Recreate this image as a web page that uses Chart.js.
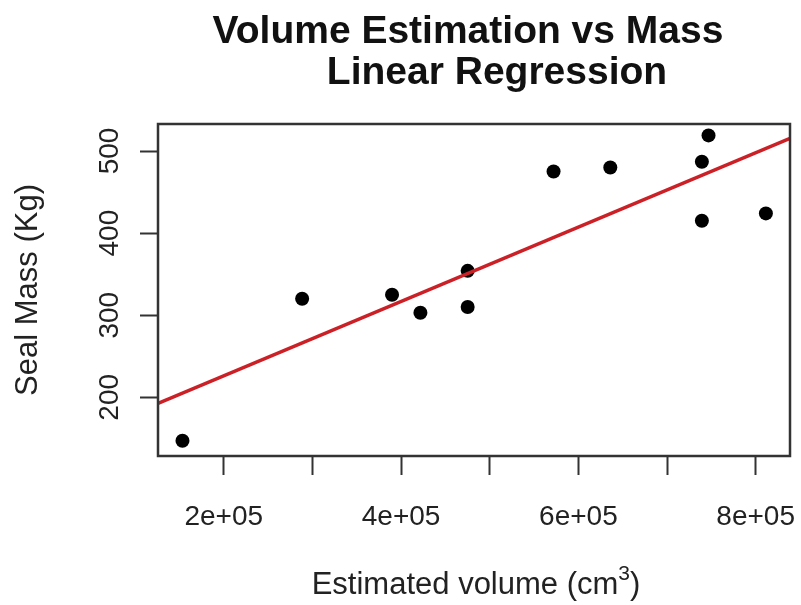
<!DOCTYPE html>
<html>
<head>
<meta charset="utf-8">
<script src="https://cdn.jsdelivr.net/npm/chart.js@4"></script>
<style>
  html, body { margin: 0; padding: 0; background: #fff; }
  #wrap { width: 801px; height: 605px; }
</style>
</head>
<body>
<div id="wrap"><canvas id="chart" width="801" height="605"></canvas></div>
<script>
// values
const volume = [153400, 288400, 389800, 421800, 475100, 475100, 572000, 636000, 746800, 739300, 739300, 811500];
const mass = [147, 320, 325, 303, 354, 310, 475, 480, 519, 487, 415, 424];

// fitted line, end points at the plot edges
const fitX = [125800, 838700];
const fitY = [192.7, 515.5];

const xTickValues = [200000, 300000, 400000, 500000, 600000, 700000, 800000];
const xTickLabels = ["2e+05", "", "4e+05", "", "6e+05", "", "8e+05"];
const yTickValues = [200, 300, 400, 500];
const yTickLabels = ["200", "300", "400", "500"];

const FONT = "'Liberation Sans', Arial, sans-serif";
const INK = "#222";

const textPlugin = {
  id: "rText",
  afterDraw(chart) {
    const ctx = chart.ctx;
    const a = chart.chartArea;
    const y = chart.scales.y;
    ctx.save();

    // frame
    ctx.strokeStyle = "#333";
    ctx.lineWidth = 2.5;
    ctx.strokeRect(a.left, a.top, a.right - a.left, a.bottom - a.top);

    // title
    ctx.fillStyle = "#111";
    ctx.font = "bold 39px " + FONT;
    ctx.textAlign = "center";
    ctx.textBaseline = "alphabetic";
    ctx.fillText("Volume Estimation vs Mass", 468, 43);
    ctx.fillText("Linear Regression", 497, 84);

    // x title with superscript
    ctx.fillStyle = INK;
    ctx.font = "31px " + FONT;
    const main = "Estimated volume (cm";
    const w1 = ctx.measureText(main).width;
    ctx.font = "21px " + FONT;
    const w2 = ctx.measureText("3").width;
    ctx.font = "31px " + FONT;
    const w3 = ctx.measureText(")").width;
    let x0 = 476 - (w1 + w2 + w3) / 2;
    const base = 594;
    ctx.textAlign = "left";
    ctx.fillText(main, x0, base);
    ctx.font = "21px " + FONT;
    ctx.fillText("3", x0 + w1, base - 14);
    ctx.font = "31px " + FONT;
    ctx.fillText(")", x0 + w1 + w2, base);

    // y title
    ctx.save();
    ctx.translate(37, (a.top + a.bottom) / 2);
    ctx.rotate(-Math.PI / 2);
    ctx.textAlign = "center";
    ctx.fillText("Seal Mass (Kg)", 0, 0);
    ctx.restore();

    // y tick labels, rotated like R
    ctx.font = "28px " + FONT;
    yTickValues.forEach((v, i) => {
      ctx.save();
      ctx.translate(118, y.getPixelForValue(v));
      ctx.rotate(-Math.PI / 2);
      ctx.textAlign = "center";
      ctx.fillText(yTickLabels[i], 0, 0);
      ctx.restore();
    });
    ctx.restore();
  }
};

new Chart(document.getElementById("chart"), {
  type: "scatter",
  data: {
    datasets: [
      {
        data: volume.map((v, i) => ({ x: v, y: mass[i] })),
        pointRadius: 7,
        pointBackgroundColor: "#000",
        pointBorderWidth: 0,
        order: 2
      },
      {
        type: "line",
        data: fitX.map((v, i) => ({ x: v, y: fitY[i] })),
        borderColor: "#cc2027",
        borderWidth: 3.5,
        pointRadius: 0,
        fill: false,
        order: 1
      }
    ]
  },
  options: {
    responsive: false,
    animation: false,
    layout: { padding: { left: 0, right: 11, top: 124, bottom: 0 } },
    plugins: { legend: { display: false }, tooltip: { enabled: false } },
    scales: {
      x: {
        type: "linear",
        min: 125800,
        max: 838700,
        afterBuildTicks: s => { s.ticks = xTickValues.map(v => ({ value: v })); },
        afterFit: s => { s.height = 149; s.paddingLeft = 0; s.paddingRight = 0; },
        border: { display: false },
        grid: { drawOnChartArea: false, drawTicks: true, tickLength: 19, tickColor: "#333", tickWidth: 2 },
        ticks: {
          autoSkip: false,
          maxRotation: 0,
          padding: 25,
          color: INK,
          font: { family: FONT, size: 28 },
          callback: (v) => xTickLabels[xTickValues.indexOf(v)]
        }
      },
      y: {
        min: 128.5,
        max: 532.9,
        afterBuildTicks: s => { s.ticks = yTickValues.map(v => ({ value: v })); },
        afterFit: s => { s.width = 158; s.paddingTop = 0; s.paddingBottom = 0; },
        border: { display: false },
        grid: { drawOnChartArea: false, drawTicks: true, tickLength: 18, tickColor: "#333", tickWidth: 2 },
        ticks: { display: false }
      }
    }
  },
  plugins: [textPlugin]
});
</script>
</body>
</html>
